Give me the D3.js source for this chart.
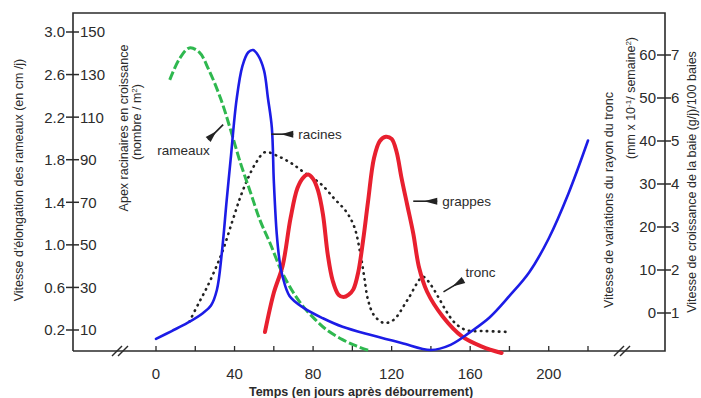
<!doctype html>
<html lang="fr">
<head>
<meta charset="utf-8">
<script src="https://d3js.org/d3.v7.min.js"></script>
<style>
  body { margin: 0; background: #fff; }
  svg text { font-family: "Liberation Sans", Arial, sans-serif; fill: #2b2b2b; }
</style>
</head>
<body>
<div id="chart"></div>
<script>
// ticks
var joursTicks = [0, 20, 40, 60, 80, 100, 120, 140, 160, 180, 200, 220];
var joursLabels = [0, 40, 80, 120, 160, 200];
var rameauxTicks = [0.2, 0.6, 1.0, 1.4, 1.8, 2.2, 2.6, 3.0];
var apexTicks = [10, 30, 50, 70, 90, 110, 130, 150];
var troncTicks = [0, 10, 20, 30, 40, 50, 60];
var baieTicks = [1, 2, 3, 4, 5, 6, 7];

// rameaux (cm/j)
var rameauxJours = [7, 12, 17, 22, 27, 33, 38, 43, 48, 53, 58, 64, 70, 75, 81, 87, 95, 102, 108];
var rameauxVal = [2.55, 2.75, 2.85, 2.81, 2.64, 2.37, 2.08, 1.77, 1.5, 1.23, 1.02, 0.75, 0.55, 0.42, 0.3, 0.2, 0.11, 0.05, 0.01];

// racines (apex / m2)
var racinesJours = [0, 8, 16, 24, 28, 31, 33.5, 36, 38, 41, 44, 47, 49.5, 52, 55, 57, 59, 60, 61.5, 63, 64.5, 68, 75, 85, 95, 110, 125, 140, 150, 160, 170, 180, 190, 200, 210, 220];
var racinesVal = [5.8, 9.5, 13.3, 18, 21.5, 28.8, 46, 71, 90, 118, 134, 140.5, 141.5, 139, 132, 119, 105, 80, 55, 42, 35, 26, 20.5, 15.5, 11.5, 7.5, 3.9, 0.6, 3, 9, 16, 26, 37, 53, 74, 99];

// grappes (g/j/100 baies)
var grappesJours = [55.5, 60, 64.5, 68.5, 72, 75, 77.5, 80, 82.5, 85, 87.5, 90, 93, 95.5, 98, 100.5, 103, 105.5, 108, 111, 114, 117, 120, 122.5, 125, 128, 131, 134, 138, 146, 156, 166, 176];
var grappesVal = [0.56, 1.47, 2.1, 3.2, 3.9, 4.15, 4.22, 4.12, 3.85, 3.3, 2.35, 1.75, 1.42, 1.37, 1.42, 1.55, 1.95, 2.7, 3.6, 4.6, 5.0, 5.1, 5.05, 4.75, 4.15, 3.5, 2.85, 2.05, 1.5, 0.92, 0.45, 0.22, 0.07];

// tronc (mm x 10-1 / semaine)
var troncJours = [17, 22, 26, 30, 34, 39, 43, 47, 51, 55.5, 62, 69, 76, 84, 91, 97, 101, 104, 106, 108, 111, 116, 121, 128, 136, 140, 144, 148, 152, 158, 168, 179];
var troncVal = [-2, 2.5, 6, 10, 14.5, 21.5, 27, 31.5, 35, 37.4, 36.5, 34.8, 32.5, 30, 26.5, 23.5, 20, 14, 8.5, 3, -0.5, -2.3, -1.6, 3, 8.4, 6.5, 3.5, 0.3, -2.2, -4, -4.2, -4.4];

var width = 701, height = 398;
var frameL = 73, frameR = 665, frameT = 13, frameB = 351;

var x = d3.scaleLinear().domain([0, 220]).range([156, 588]);
var yRam = d3.scaleLinear().domain([0.2, 3.0]).range([330, 32]);
var yApex = d3.scaleLinear().domain([10, 150]).range([330, 32]);
var yTronc = d3.scaleLinear().domain([0, 60]).range([313, 55]);
var yBaie = d3.scaleLinear().domain([1, 7]).range([313, 55]);

var svg = d3.select("#chart").append("svg")
    .attr("width", width)
    .attr("height", height);

var ink = "#2b2b2b";

// frame
svg.append("path")
    .attr("d", "M" + frameL + "," + frameB + "V" + frameT + "H" + frameR + "V" + frameB + "H" + frameL)
    .attr("fill", "none")
    .attr("stroke", ink)
    .attr("stroke-width", 1.6);

// left ticks
svg.selectAll(".lt").data(rameauxTicks).enter().append("line")
    .attr("x1", frameL - 7).attr("x2", frameL + 6)
    .attr("y1", function(d) { return yRam(d); })
    .attr("y2", function(d) { return yRam(d); })
    .attr("stroke", ink).attr("stroke-width", 1.5);

svg.selectAll(".ltl").data(rameauxTicks).enter().append("text")
    .attr("x", frameL - 8)
    .attr("y", function(d) { return yRam(d); })
    .attr("dy", "0.36em")
    .attr("text-anchor", "end")
    .style("font-size", "15px")
    .text(function(d) { return d3.format(".1f")(d); });

svg.selectAll(".lta").data(apexTicks).enter().append("text")
    .attr("x", frameL + 7)
    .attr("y", function(d) { return yApex(d); })
    .attr("dy", "0.36em")
    .style("font-size", "15px")
    .text(function(d) { return d; });

// right ticks
svg.selectAll(".rt").data(troncTicks).enter().append("line")
    .attr("x1", frameR - 8).attr("x2", frameR + 6)
    .attr("y1", function(d) { return yTronc(d); })
    .attr("y2", function(d) { return yTronc(d); })
    .attr("stroke", ink).attr("stroke-width", 1.5);

svg.selectAll(".rtl").data(troncTicks).enter().append("text")
    .attr("x", frameR - 9)
    .attr("y", function(d) { return yTronc(d); })
    .attr("dy", "0.36em")
    .attr("text-anchor", "end")
    .style("font-size", "15px")
    .text(function(d) { return d; });

svg.selectAll(".rtb").data(baieTicks).enter().append("text")
    .attr("x", frameR + 6)
    .attr("y", function(d) { return yBaie(d); })
    .attr("dy", "0.36em")
    .style("font-size", "15px")
    .text(function(d) { return d; });

// bottom ticks
svg.selectAll(".bt").data(joursTicks).enter().append("line")
    .attr("x1", function(d) { return x(d); })
    .attr("x2", function(d) { return x(d); })
    .attr("y1", frameB).attr("y2", frameB - 5)
    .attr("stroke", ink).attr("stroke-width", 1.3);

svg.selectAll(".btl").data(joursLabels).enter().append("text")
    .attr("x", function(d) { return x(d); })
    .attr("y", frameB + 28)
    .attr("text-anchor", "middle")
    .style("font-size", "15px")
    .text(function(d) { return d; });

// axis breaks
[120, 622].forEach(function(bx) {
    [-3, 3].forEach(function(o) {
        svg.append("line")
            .attr("x1", bx + o - 5).attr("y1", frameB + 5)
            .attr("x2", bx + o + 5).attr("y2", frameB - 5)
            .attr("stroke", ink).attr("stroke-width", 1.4);
    });
});

// titles
svg.append("text")
    .attr("transform", "translate(23,180) rotate(-90)")
    .attr("text-anchor", "middle")
    .style("font-size", "12.5px")
    .text("Vitesse d'élongation des rameaux (en cm /j)");

svg.append("text")
    .attr("transform", "translate(128,128) rotate(-90)")
    .attr("text-anchor", "middle")
    .style("font-size", "12.5px")
    .text("Apex racinaires en croissance");

var t2 = svg.append("text")
    .attr("transform", "translate(141,122) rotate(-90)")
    .attr("text-anchor", "middle")
    .style("font-size", "12.5px");
t2.append("tspan").text("(nombre / m");
t2.append("tspan").attr("dy", -4).style("font-size", "8px").text("2");
t2.append("tspan").attr("dy", 4).text(")");

svg.append("text")
    .attr("transform", "translate(613,200) rotate(-90)")
    .attr("text-anchor", "middle")
    .style("font-size", "12.5px")
    .text("Vitesse de variations du rayon du tronc");

var t3 = svg.append("text")
    .attr("transform", "translate(635,98) rotate(-90)")
    .attr("text-anchor", "middle")
    .style("font-size", "12.5px");
t3.append("tspan").text("(mm x 10");
t3.append("tspan").attr("dy", -4).style("font-size", "8px").text("-1");
t3.append("tspan").attr("dy", 4).text("/ semaine");
t3.append("tspan").attr("dy", -4).style("font-size", "8px").text("2");
t3.append("tspan").attr("dy", 4).text(")");

svg.append("text")
    .attr("transform", "translate(696,182) rotate(-90)")
    .attr("text-anchor", "middle")
    .style("font-size", "12.5px")
    .text("Vitesse de croissance de la baie (g/j)/100 baies");

svg.append("text")
    .attr("x", 361).attr("y", 396)
    .attr("text-anchor", "middle")
    .style("font-size", "12.5px")
    .style("font-weight", "bold")
    .text("Temps (en jours après débourrement)");

// curves
function drawCurve(jours, vals, yScale, color, w, dash, cap) {
    var pts = jours.map(function(j, i) { return [j, vals[i]]; });
    var line = d3.line()
        .x(function(d) { return x(d[0]); })
        .y(function(d) { return yScale(d[1]); })
        .curve(d3.curveCatmullRom.alpha(0.5));
    svg.append("path")
        .datum(pts)
        .attr("d", line)
        .attr("fill", "none")
        .attr("stroke", color)
        .attr("stroke-width", w)
        .attr("stroke-linecap", cap)
        .attr("stroke-dasharray", dash);
}

drawCurve(troncJours, troncVal, yTronc, "#222", 2.6, "0.5,5.5", "round");
drawCurve(rameauxJours, rameauxVal, yRam, "#2fb84f", 3, "9,3", "butt");
drawCurve(grappesJours, grappesVal, yBaie, "#e8202f", 4, null, "round");
drawCurve(racinesJours, racinesVal, yApex, "#1c1ce6", 2.6, null, "round");

// labels with darts
var notes = [
    {txt: "rameaux", j: 34.2, v: 2.13, s: yRam, dx: -15, dy: 15, tx: -66, ty: 30},
    {txt: "racines", j: 58.7, v: 102, s: yApex, dx: 22, dy: 0, tx: 27, ty: 5},
    {txt: "grappes", j: 131, v: 3.6, s: yBaie, dx: 24, dy: 0, tx: 29, ty: 5},
    {txt: "tronc", j: 146.4, v: 4.9, s: yTronc, dx: 20, dy: -12, tx: 22, ty: -15}
];

notes.forEach(function(n) {
    var px = x(n.j), py = n.s(n.v);
    var ex = px + n.dx, ey = py + n.dy;
    var len = Math.sqrt(n.dx * n.dx + n.dy * n.dy);
    var ux = n.dx / len, uy = n.dy / len;
    var mx = px + ux * len * 0.45, my = py + uy * len * 0.45;
    svg.append("line")
        .attr("x1", px).attr("y1", py).attr("x2", ex).attr("y2", ey)
        .attr("stroke", "#222").attr("stroke-width", 1.6);
    svg.append("path")
        .attr("d", "M" + mx + "," + my +
            "L" + (ex + uy * 3.5) + "," + (ey - ux * 3.5) +
            "L" + (ex - uy * 3.5) + "," + (ey + ux * 3.5) + "Z")
        .attr("fill", "#222");
    svg.append("text")
        .attr("x", px + n.tx).attr("y", py + n.ty)
        .style("font-size", "13.5px")
        .text(n.txt);
});
</script>
</body>
</html>
